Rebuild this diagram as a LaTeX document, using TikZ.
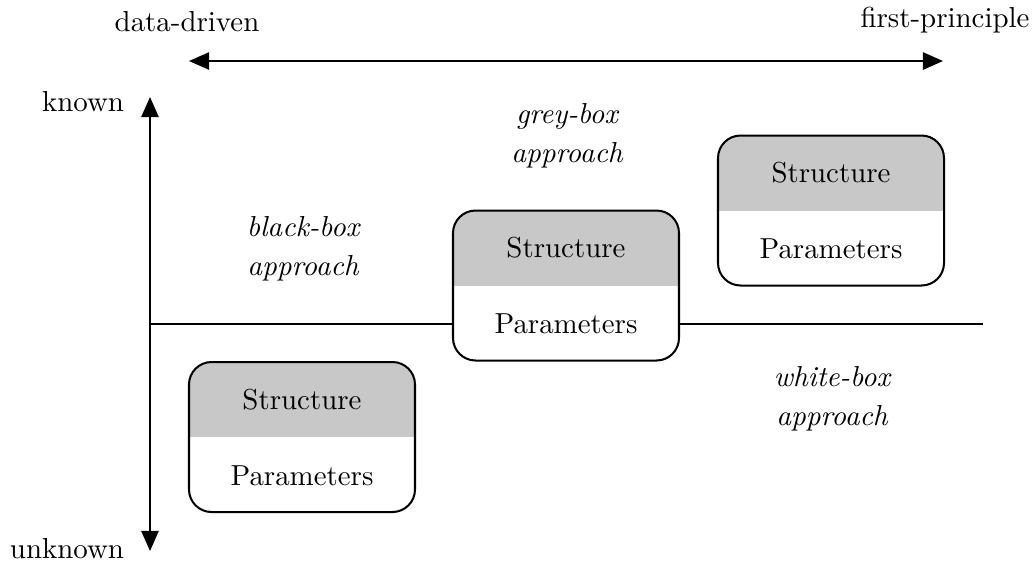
\documentclass[tikz,border=0pt]{standalone}
\usetikzlibrary{arrows.meta}
\definecolor{boxgray}{gray}{0.785}
\begin{document}
\begin{tikzpicture}[x=0.346pt,y=-0.346pt,
  axis/.style={line width=0.7pt,{Triangle[length=7pt,width=6pt]}-{Triangle[length=7pt,width=6pt]}},
  modelbox/.style={draw,line width=0.7pt,fill=white,rounded corners=7.8pt,
    minimum width=226*0.346pt,minimum height=150*0.346pt,inner sep=0pt,
    path picture={\fill[boxgray,sharp corners] (path picture bounding box.north west) rectangle (path picture bounding box.east);}},
  lbl/.style={inner sep=0pt,font=\normalsize},
  approach/.style={align=center,font=\itshape,inner sep=0pt}]
\useasboundingbox (0,0) rectangle (1032,565);

% horizontal model scale
\coordinate (dl) at (189,61);
\coordinate (dr) at (943,61);
\draw[axis] (dl) -- (dr);
\node[lbl] (dd) at (187,22) {data-driven};
\node[lbl] (fp) at (945,20) {first-principle};

% vertical knowledge axis
\coordinate (vt) at (150,97);
\coordinate (vb) at (150,551);
\draw[axis] (vb) -- (vt);
\node[lbl] (kn) at (83,102) {known};
\node[lbl] (ukn) at (67,549) {unknown};

% divider line
\coordinate (hl) at (150,324);
\coordinate (hr) at (983,324);
\draw[line width=0.7pt] (hl) -- (hr);

% model boxes
\node[modelbox] (b1) at (302,437) {};
\node[lbl] (b1s) at (302,400) {Structure};
\node[lbl] (b1p) at (302,476) {Parameters};

\node[modelbox] (b2) at (566,285.5) {};
\node[lbl] (b2s) at (566,248) {Structure};
\node[lbl] (b2p) at (566,324) {Parameters};

\node[modelbox] (b3) at (831,210.5) {};
\node[lbl] (b3s) at (831,173) {Structure};
\node[lbl] (b3p) at (831,249) {Parameters};

% approach labels
\node[approach] (bb) at (303,249) {black-box\\[1.5pt]approach};
\node[approach] (gb) at (567,136) {grey-box\\[1.5pt]approach};
\node[approach] (wb) at (832,399) {white-box\\[1.5pt]approach};
\end{tikzpicture}
\end{document}
